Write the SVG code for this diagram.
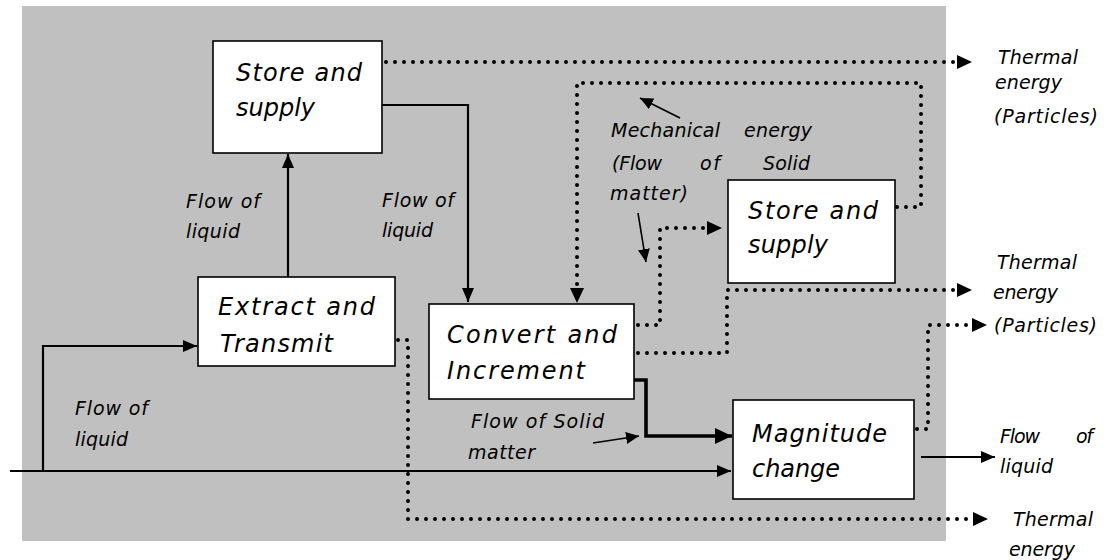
<svg xmlns="http://www.w3.org/2000/svg" width="1110" height="560" viewBox="0 0 1110 560">
<defs>
<style>
.box{fill:#fff;stroke:#000;stroke-width:1.6}
.t{font-family:"DejaVu Sans","Liberation Sans",sans-serif;font-style:italic;fill:#000}
.big{font-size:24px}
.sm{font-size:19px}
.solid{fill:none;stroke:#000;stroke-width:2.2}
.thick{fill:none;stroke:#000;stroke-width:3.6}
.thin{fill:none;stroke:#000;stroke-width:1.6}
.dot{fill:none;stroke:#000;stroke-width:4;stroke-linecap:round;stroke-dasharray:0 9}
</style>
<marker id="ah" markerUnits="userSpaceOnUse" markerWidth="16" markerHeight="14" refX="14" refY="6" orient="auto">
<path d="M0,0 L14,6 L0,12 z" fill="#000"/>
</marker>
<marker id="ahb" markerUnits="userSpaceOnUse" markerWidth="20" markerHeight="18" refX="17" refY="8" orient="auto">
<path d="M0,0 L17,8 L0,16 z" fill="#000"/>
</marker>
<marker id="ahs" markerUnits="userSpaceOnUse" markerWidth="16" markerHeight="14" refX="13" refY="6" orient="auto">
<path d="M0,0 L13,6 L0,12 z" fill="#000"/>
</marker>
</defs>
<rect x="22" y="6" width="924" height="535" fill="#c0c0c0"/>

<g id="connectors">
<polyline class="solid" points="10,471 731,471" marker-end="url(#ah)"/>
<polyline class="solid" points="43,471 43,346 197,346" marker-end="url(#ah)"/>
<polyline class="solid" points="288,277 288,154" marker-end="url(#ah)"/>
<polyline class="solid" points="382,105 468,105 468,302" marker-end="url(#ah)"/>
<polyline class="thick" points="634,380 646,380 646,436 732,436" marker-end="url(#ahb)"/>
<polyline class="solid" points="921,457 995,457" marker-end="url(#ah)"/>
<polyline class="dot" points="386,62 957,62"/>
<path d="M957,55 L972,62 L957,69 z" fill="#000"/>
<polyline class="dot" points="897,207 921,207 921,83 577,83 577,289"/>
<path d="M570,288 L577,303 L584,288 z" fill="#000"/>
<polyline class="dot" points="638,325 660,325 660,228 707,228"/>
<path d="M707,221 L722,228 L707,235 z" fill="#000"/>
<polyline class="dot" points="638,353 727,353 727,290 957,290"/>
<path d="M957,283 L972,290 L957,297 z" fill="#000"/>
<polyline class="dot" points="917,429 928,429 928,325 972,325"/>
<path d="M972,318 L987,325 L972,332 z" fill="#000"/>
<polyline class="dot" points="398,340 408,340 408,519 973,519"/>
<path d="M973,512 L988,519 L973,526 z" fill="#000"/>
<line class="thin" x1="680" y1="118" x2="640" y2="98" marker-end="url(#ahs)"/>
<line class="thin" x1="638" y1="213" x2="646" y2="262" marker-end="url(#ahs)"/>
<line class="thin" x1="593" y1="443" x2="639" y2="436" marker-end="url(#ahs)"/>
</g>

<g id="store-supply-1">
<rect class="box" x="213" y="41" width="169" height="112"/>
<text class="t big" x="236" y="81" textLength="126" lengthAdjust="spacing">Store and</text>
<text class="t big" x="236" y="116" textLength="79" lengthAdjust="spacing">supply</text>
</g>

<g id="extract-transmit">
<rect class="box" x="198" y="277" width="197" height="89"/>
<text class="t big" x="218" y="315" textLength="157" lengthAdjust="spacing">Extract and</text>
<text class="t big" x="220" y="352" textLength="113" lengthAdjust="spacing">Transmit</text>
</g>

<g id="convert-increment">
<rect class="box" x="429" y="304" width="205" height="95"/>
<text class="t big" x="447" y="343" textLength="170" lengthAdjust="spacing">Convert  and</text>
<text class="t big" x="447" y="379" textLength="138" lengthAdjust="spacing">Increment</text>
</g>

<g id="store-supply-2">
<rect class="box" x="728" y="180" width="167" height="103"/>
<text class="t big" x="748" y="219" textLength="130" lengthAdjust="spacing">Store and</text>
<text class="t big" x="748" y="253" textLength="80" lengthAdjust="spacing">supply</text>
</g>

<g id="magnitude-change">
<rect class="box" x="733" y="400" width="181" height="99"/>
<text class="t big" x="752" y="442" textLength="135" lengthAdjust="spacing">Magnitude</text>
<text class="t big" x="752" y="477" textLength="88" lengthAdjust="spacing">change</text>
</g>

<g id="labels">
<text class="t sm" x="186" y="208" textLength="74" lengthAdjust="spacing">Flow of</text>
<text class="t sm" x="186" y="238" textLength="54" lengthAdjust="spacing">liquid</text>
<text class="t sm" x="382" y="207" textLength="72" lengthAdjust="spacing">Flow of</text>
<text class="t sm" x="382" y="237" textLength="51" lengthAdjust="spacing">liquid</text>
<text class="t sm" x="75" y="415" textLength="73" lengthAdjust="spacing">Flow of</text>
<text class="t sm" x="75" y="446" textLength="53" lengthAdjust="spacing">liquid</text>
<text class="t sm" x="611" y="137" textLength="109" lengthAdjust="spacing">Mechanical</text>
<text class="t sm" x="744" y="137" textLength="68" lengthAdjust="spacing">energy</text>
<text class="t sm" x="612" y="170" textLength="50" lengthAdjust="spacing">(Flow</text>
<text class="t sm" x="700" y="170" textLength="20" lengthAdjust="spacing">of</text>
<text class="t sm" x="763" y="170" textLength="47" lengthAdjust="spacing">Solid</text>
<text class="t sm" x="610" y="200" textLength="78" lengthAdjust="spacing">matter)</text>
<text class="t sm" x="471" y="428" textLength="133" lengthAdjust="spacing">Flow of Solid</text>
<text class="t sm" x="468" y="459" textLength="67" lengthAdjust="spacing">matter</text>
<text class="t sm" x="998" y="64" textLength="80" lengthAdjust="spacing">Thermal</text>
<text class="t sm" x="995" y="89" textLength="67" lengthAdjust="spacing">energy</text>
<text class="t sm" x="994" y="123" textLength="104" lengthAdjust="spacing">(Particles)</text>
<text class="t sm" x="997" y="269" textLength="80" lengthAdjust="spacing">Thermal</text>
<text class="t sm" x="993" y="299" textLength="65" lengthAdjust="spacing">energy</text>
<text class="t sm" x="994" y="332" textLength="103" lengthAdjust="spacing">(Particles)</text>
<text class="t sm" x="1000" y="443" textLength="40" lengthAdjust="spacing">Flow</text>
<text class="t sm" x="1076" y="443" textLength="17" lengthAdjust="spacing">of</text>
<text class="t sm" x="1000" y="473" textLength="53" lengthAdjust="spacing">liquid</text>
<text class="t sm" x="1013" y="526" textLength="80" lengthAdjust="spacing">Thermal</text>
<text class="t sm" x="1009" y="556" textLength="66" lengthAdjust="spacing">energy</text>
</g>
</svg>
